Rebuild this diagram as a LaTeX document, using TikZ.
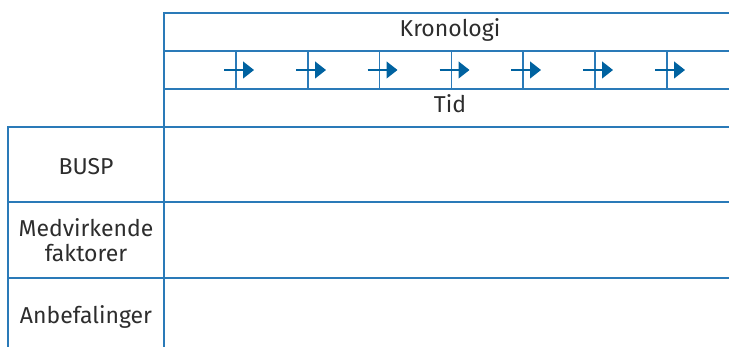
\documentclass[tikz,border=0pt]{standalone}
\usepackage{fontspec}
\setmainfont{Fira Sans}
\usetikzlibrary{arrows.meta,positioning}
\definecolor{gridblue}{RGB}{42,122,184}
\definecolor{tipblue}{RGB}{0,98,160}
\definecolor{txtgray}{RGB}{45,45,45}

\begin{document}
\begin{tikzpicture}[x=1pt,y=-1pt,line width=1.4pt,
  gridline/.style={draw=gridblue},
  celltext/.style={text=txtgray,font=\fontsize{23}{25}\selectfont,align=center,inner sep=0pt},
  timearrow/.style={draw=tipblue,line width=1.2pt,-{Triangle[length=11pt,width=17pt]}}]
\useasboundingbox (0,0) rectangle (729,347);

% header: chronology band
\draw[gridline] (164,347) -- (164,13) -- (729,13);
\draw[gridline] (164,51) -- (729,51);
\draw[gridline] (164,89) -- (729,89);
\node (kron) [celltext] at (450,30) {Kronologi};
\node (tid) [celltext] at (450,104) {Tid};

% time steps
\foreach \x [count=\i] in {236,308,379.5,451.5,523,595,667} {
  \draw[gridline] (\x,51) -- (\x,89);
  \coordinate (s\i) at (\x-12,70);
  \coordinate (e\i) at (\x+18,70);
  \draw[timearrow] (s\i) -- (e\i);
}

% rows
\draw[gridline] (8,347) -- (8,127) -- (729,127);
\draw[gridline] (8,202) -- (729,202);
\draw[gridline] (8,278) -- (729,278);
\node (busp) [celltext] at (86,167) {BUSP};
\node (medv) [celltext] at (86,240) {Medvirkende\\faktorer};
\node (anbef) [celltext] at (86,317) {Anbefalinger};
\end{tikzpicture}
\end{document}
